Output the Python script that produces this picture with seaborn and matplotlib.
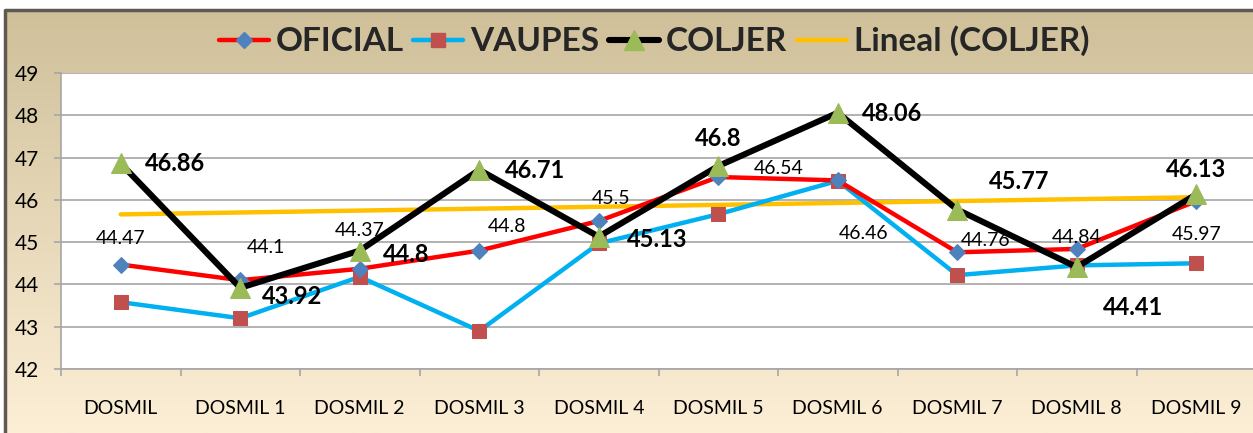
import numpy as np
import pandas as pd
import seaborn as sns
import matplotlib.pyplot as plt
from matplotlib.lines import Line2D
from matplotlib.colors import LinearSegmentedColormap

categories = ["DOSMIL", "DOSMIL 1", "DOSMIL 2", "DOSMIL 3", "DOSMIL 4",
              "DOSMIL 5", "DOSMIL 6", "DOSMIL 7", "DOSMIL 8", "DOSMIL 9"]
oficial = [44.47, 44.1, 44.37, 44.8, 45.5, 46.54, 46.46, 44.76, 44.84, 45.97]
vaupes = [43.58, 43.2, 44.18, 42.9, 44.97, 45.66, 46.45, 44.22, 44.45, 44.5]
coljer = [46.86, 43.92, 44.8, 46.71, 45.13, 46.8, 48.06, 45.77, 44.41, 46.13]

# offsets (pixels) of the data labels relative to each point
oficial_off = [(0, 26), (26, 33), (0, 38), (28, 24), (12, 23), (60, 9), (26, -53), (28, 12), (0, 11), (0, -33)]
coljer_off = [(54, 0), (52, -9), (46, -4), (56, -1), (58, -3), (0, 28), (54, -1), (62, 28), (56, -40), (0, 25)]

sns.set_theme(style="white")
plt.rcParams['font.family'] = ['Lato', 'DejaVu Sans']

df = pd.DataFrame({"pos": np.arange(len(categories)), "OFICIAL": oficial,
                   "VAUPES": vaupes, "COLJER": coljer})

fig = plt.figure(figsize=(12.53, 4.33), dpi=100)

# background frame with gradient
bg = fig.add_axes([0, 0, 1, 1], zorder=-10)
grad = LinearSegmentedColormap.from_list("bg", ["#CFC09A", "#FDEFD6"])
bg.imshow(np.linspace(0, 1, 256).reshape(-1, 1), aspect="auto", cmap=grad,
          extent=[5 / 1253, 1, 0, 1 - 10 / 433], transform=bg.transAxes)
bg.plot([5 / 1253, 5 / 1253, 1], [0, 1 - 10 / 433, 1 - 10 / 433], color="#5E5A52",
        lw=2.5, transform=bg.transAxes)
bg.set_xlim(0, 1)
bg.set_ylim(0, 1)
bg.axis("off")

ax = fig.add_axes([61 / 1253, 1 - 369 / 433, 1195 / 1253, 296 / 433])
ax.set_facecolor("white")

sns.lineplot(data=df, x="pos", y="VAUPES", ax=ax, color="#00B0F0", lw=3.2,
             marker="s", markersize=10.5, markerfacecolor="#C0504D",
             markeredgecolor="#C0504D", zorder=3)
sns.lineplot(data=df, x="pos", y="OFICIAL", ax=ax, color="#FF0000", lw=3.2,
             marker="D", markersize=8, markerfacecolor="#4F81BD",
             markeredgecolor="#4F81BD", zorder=4)
sns.lineplot(data=df, x="pos", y="COLJER", ax=ax, color="black", lw=4.4,
             marker="^", markersize=15, markerfacecolor="#9BBB59",
             markeredgecolor="#9BBB59", zorder=5)

# linear trend of COLJER
slope, icpt = np.polyfit(df["pos"], df["COLJER"], 1)
ax.plot(df["pos"], slope * df["pos"] + icpt, color="#FFC000", lw=3.2, zorder=2)

for i, v in enumerate(oficial):
    ax.annotate(f"{v:g}", (i, v), xytext=oficial_off[i], textcoords="offset pixels",
                ha="center", va="center", fontsize=14, color="black", zorder=6)
for i, v in enumerate(coljer):
    ax.annotate(f"{v:g}", (i, v), xytext=coljer_off[i], textcoords="offset pixels",
                ha="center", va="center", fontsize=17, fontweight="bold",
                color="black", zorder=6)

ax.set_xlim(-0.5, len(categories) - 0.5)
ax.set_ylim(42, 49)
ax.set_yticks(range(42, 50))
ax.set_xticks(np.arange(len(categories)))
ax.set_xticklabels(categories)
ax.set_xticks(np.arange(len(categories) + 1) - 0.5, minor=True)
ax.set_xlabel("")
ax.set_ylabel("")
ax.grid(axis="y", color="#A6A6A6", lw=1.2)
ax.set_axisbelow(True)
for s in ["top", "right"]:
    ax.spines[s].set_visible(False)
for s in ["left", "bottom"]:
    ax.spines[s].set_color("#A6A6A6")
    ax.spines[s].set_linewidth(1.2)
ax.tick_params(axis="y", which="major", left=True, length=5, width=1.2,
               color="#A6A6A6", pad=11, labelsize=15, labelcolor="black")
ax.tick_params(axis="x", which="major", bottom=False, length=0, pad=22,
               labelsize=14, labelcolor="black")
ax.tick_params(axis="x", which="minor", bottom=True, length=5, width=1.2,
               color="#A6A6A6")

handles = [
    Line2D([], [], color="#FF0000", lw=3.2, marker="D", markersize=8,
           markerfacecolor="#4F81BD", markeredgecolor="#4F81BD"),
    Line2D([], [], color="#00B0F0", lw=3.2, marker="s", markersize=10.5,
           markerfacecolor="#C0504D", markeredgecolor="#C0504D"),
    Line2D([], [], color="black", lw=4.4, marker="^", markersize=15,
           markerfacecolor="#9BBB59", markeredgecolor="#9BBB59"),
    Line2D([], [], color="#FFC000", lw=3.2),
]
fig.legend(handles, ["OFICIAL", "VAUPES", "COLJER", "Lineal (COLJER)"],
           loc="center", bbox_to_anchor=(654 / 1253, 1 - 41 / 433), ncol=4,
           frameon=False, handlelength=1.5, handletextpad=0.2, columnspacing=0.3,
           prop={"size": 24, "weight": "bold"})

plt.savefig("out.png", dpi=100)
